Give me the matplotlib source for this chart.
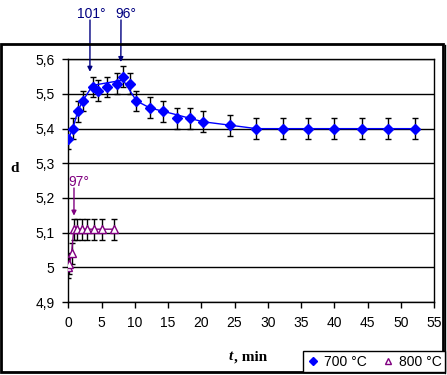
import matplotlib
matplotlib.use('Agg')
import matplotlib.pyplot as plt
from matplotlib.lines import Line2D
from matplotlib.patches import Rectangle

# 700 °C
t_700 = [0, 0.67, 1.42, 2.17, 3.67, 4.42, 5.75, 7.25, 8.25, 9.25, 10.25, 12.25,
         14.25, 16.3, 18.25, 20.2, 24.3, 28.3, 32.3, 36.1, 40, 44.2, 48.1, 52.1]
d_700 = [5.37, 5.40, 5.45, 5.48, 5.52, 5.51, 5.52, 5.53, 5.55, 5.53, 5.48, 5.46,
         5.45, 5.43, 5.43, 5.42, 5.41, 5.40, 5.40, 5.40, 5.40, 5.40, 5.40, 5.40]
err_700 = 0.03
# trend line 700 °C
t_fit = [0, 0.67, 1.42, 2.17, 3.67, 8.25, 9.25, 10.25, 12.25, 16.3, 20.2, 24.3, 28.3, 52.1]
d_fit = [5.37, 5.40, 5.45, 5.48, 5.525, 5.54, 5.51, 5.48, 5.46, 5.44, 5.42, 5.41, 5.40, 5.40]

# 800 °C
t_800 = [0, 0.17, 0.5, 0.83, 1.33, 2.0, 2.83, 3.83, 5.0, 6.83]
d_800 = [5.00, 5.01, 5.04, 5.11, 5.11, 5.11, 5.11, 5.11, 5.11, 5.11]
err_800 = 0.03

y_ticks = [4.9, 5.0, 5.1, 5.2, 5.3, 5.4, 5.5, 5.6]
y_labels = ['4,9', '5', '5,1', '5,2', '5,3', '5,4', '5,5', '5,6']
x_ticks = list(range(0, 56, 5))

blue = '#0000ff'
navy = '#000080'
purple = '#800080'
W, H = 447, 375

fig = plt.figure(figsize=(W / 100, H / 100), dpi=100)
ax = fig.add_axes([68.3 / W, 1 - 302 / H, (434 - 68.3) / W, (302 - 59.3) / H])

ax.set_xlim(0, 55)
ax.set_ylim(4.9, 5.6)
for y in y_ticks:
    ax.axhline(y, color='black', lw=1, zorder=1)

ax.errorbar(t_700, d_700, yerr=err_700, fmt='none', ecolor='black', elinewidth=1,
            capsize=2.5, capthick=1, zorder=2)
ax.errorbar(t_800, d_800, yerr=err_800, fmt='none', ecolor='black', elinewidth=1,
            capsize=2.5, capthick=1, zorder=2)
ax.plot(t_fit, d_fit, color=blue, lw=1, zorder=3)
ax.plot(t_700, d_700, ls='none', marker='D', ms=5, color=blue, zorder=4)
ax.plot(t_800, d_800, color=purple, lw=1, marker='^', ms=6, mfc='white',
        mec=purple, mew=1, zorder=4)

ax.set_xticks(x_ticks)
ax.set_yticks(y_ticks)
ax.set_yticklabels(y_labels)
ax.tick_params(direction='out', length=4, width=1, color='black', labelsize=10, pad=6)
for lab in ax.get_xticklabels() + ax.get_yticklabels():
    lab.set_fontfamily('Liberation Sans')
for s in ax.spines.values():
    s.set_linewidth(1)
    s.set_color('black')

# arrows
arw = dict(arrowstyle='-|>', lw=1, mutation_scale=7, shrinkA=0, shrinkB=0)
ax.annotate('', xy=(3.25, 5.564), xytext=(90, H - 20), textcoords='figure pixels',
            arrowprops=dict(arw, color=navy))
ax.annotate('', xy=(7.9, 5.592), xytext=(121, H - 20), textcoords='figure pixels',
            arrowprops=dict(arw, color=navy))
ax.annotate('', xy=(0.85, 5.149), xytext=(74, H - 188), textcoords='figure pixels',
            arrowprops=dict(arw, color=purple))
fig.text(91.7 / W, 1 - 14 / H, '101°', color=navy, fontsize=10, family='Liberation Sans',
         ha='center', va='center')
fig.text(126 / W, 1 - 14 / H, '96°', color=navy, fontsize=10, family='Liberation Sans',
         ha='center', va='center')
fig.text(79 / W, 1 - 182 / H, '97°', color=purple, fontsize=10, family='Liberation Sans',
         ha='center', va='center')

# axis labels
fig.text(15 / W, 1 - 169 / H, 'd', fontsize=11, family='Liberation Serif',
         weight='bold', ha='center', va='center')
fig.text(229 / W, 1 - 357 / H, 't', fontsize=11, family='Liberation Serif',
         weight='bold', style='italic', ha='left', va='center')
fig.text(234 / W, 1 - 357 / H, ', min', fontsize=11, family='Liberation Serif',
         weight='bold', ha='left', va='center')

# chart frame
fig.patches.append(Rectangle((1 / W, 1 - 372 / H), 441.5 / W, 328 / H,
                             transform=fig.transFigure, fill=False, lw=2,
                             edgecolor='black'))
fig.lines.append(Line2D([444.5 / W, 444.5 / W], [1 - 373 / H, 1 - 45 / H],
                        transform=fig.transFigure, color='black', lw=1))

handles = [Line2D([], [], ls='none', marker='D', ms=4, color=blue),
           Line2D([], [], ls='none', marker='^', ms=5, mfc='white', mec=purple)]
leg = fig.legend(handles, ['700 °C', '800 °C'], loc='center', ncol=2,
                 bbox_to_anchor=(374 / W, 1 - 361.5 / H), frameon=True, fancybox=False,
                 edgecolor='black', framealpha=1, borderpad=0.25, handlelength=1,
                 handletextpad=0.3, columnspacing=1.0,
                 prop={'family': 'Liberation Sans', 'size': 10})
leg.get_frame().set_linewidth(1)

fig.savefig('out.png', dpi=100)
